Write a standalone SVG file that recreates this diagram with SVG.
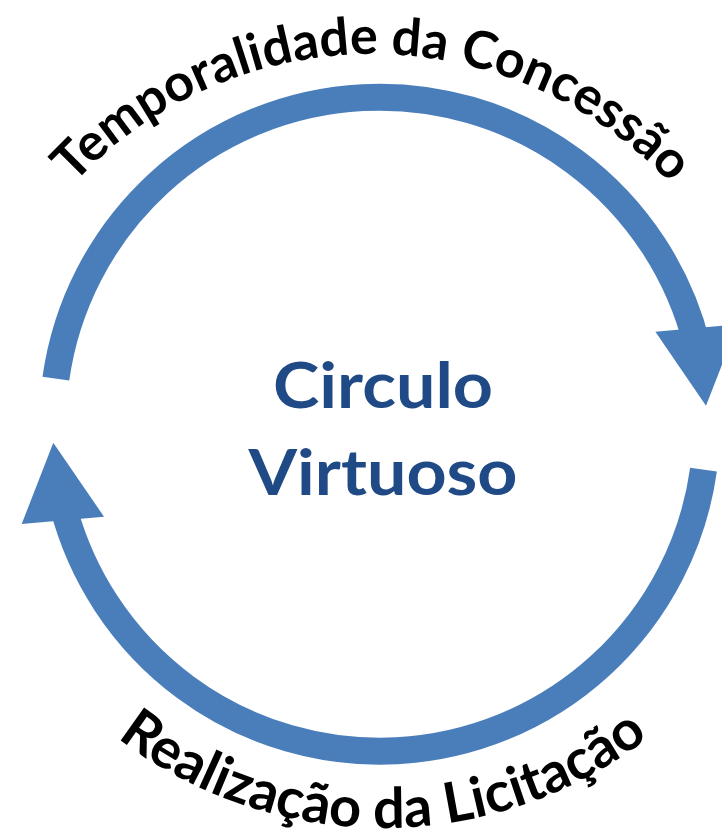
<svg xmlns="http://www.w3.org/2000/svg" xmlns:xlink="http://www.w3.org/1999/xlink" width="722" height="831" viewBox="0 0 722 831">
  <style>
    .shaft { fill: none; stroke: #4A7EBB; stroke-width: 27; stroke-linecap: butt; }
    .head { fill: #4A7EBB; stroke: none; }
    .arc-label { font-family: Lato, "Open Sans", "Liberation Sans", sans-serif; font-weight: bold; fill: #000000; }
    .center-label { font-family: Lato, "Open Sans", "Liberation Sans", sans-serif; font-weight: bold; font-size: 64px; fill: #1F4A85; text-anchor: middle; }
  </style>
  <defs>
    <path id="topTextPath" d="M -11.4 322.5 A 408 408 0 0 1 755.4 322.5"/>
    <path id="bottomTextPath" d="M -26.7 541.1 A 436 436 0 0 0 792.7 541.1"/>
  </defs>
  <rect x="0" y="0" width="722" height="831" fill="#FFFFFF"/>
  <g id="connectors">
    <g id="arrow-top">
      <path class="shaft" d="M 55.88 378.69 A 327 327 0 0 1 696.99 345.09"/>
      <polygon class="head" points="655.4,331.7 706,405.7 737.7,324.4"/>
    </g>
    <g id="arrow-bottom">
      <path class="shaft" d="M 703.52 469.71 A 327 327 0 0 1 62.41 503.31"/>
      <polygon class="head" points="104,516.7 53.3,442.7 21.7,524"/>
    </g>
  </g>
  <g id="label-top">
    <text class="arc-label" font-size="52"><textPath xlink:href="#topTextPath" href="#topTextPath" startOffset="50%" text-anchor="middle">Temporalidade da Concessão</textPath></text>
  </g>
  <g id="label-bottom">
    <text class="arc-label" font-size="56"><textPath xlink:href="#bottomTextPath" href="#bottomTextPath" startOffset="50%" text-anchor="middle">Realização da Licitação</textPath></text>
  </g>
  <g id="node-center">
    <text class="center-label" x="383" y="408" textLength="220" lengthAdjust="spacingAndGlyphs">Circulo</text>
    <text class="center-label" x="383" y="495" textLength="269" lengthAdjust="spacingAndGlyphs">Virtuoso</text>
  </g>
</svg>
